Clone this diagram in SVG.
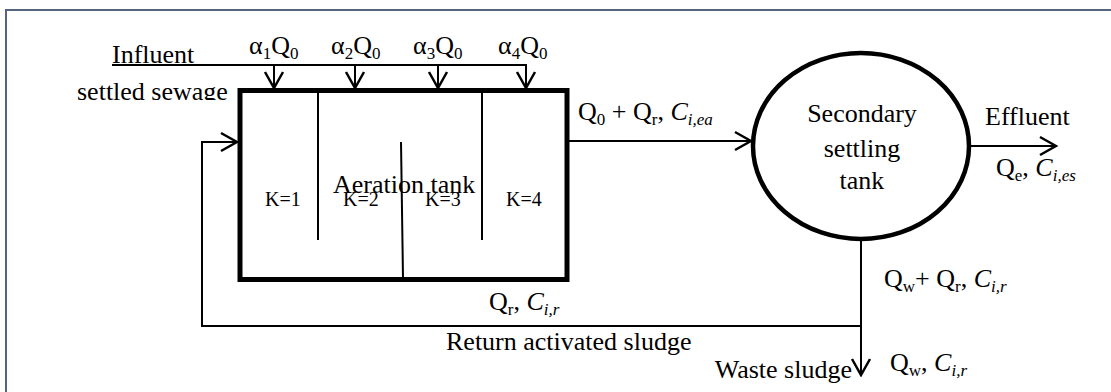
<svg xmlns="http://www.w3.org/2000/svg" width="1111" height="392" viewBox="0 0 1111 392">
<defs>
<style>
text{font-family:"Liberation Serif","Times New Roman",serif;font-size:26px;fill:#000}
.k{font-size:20px}
.sub{font-size:17px}
.it{font-style:italic}
.its{font-style:italic;font-size:17px}
.ln{fill:none;stroke:#000;stroke-width:2}
.arr{marker-end:url(#ah)}
</style>
<marker id="ah" markerUnits="userSpaceOnUse" viewBox="-18 -11 20 22" markerWidth="20" markerHeight="22" refX="0" refY="0" orient="auto">
<path d="M-16,-9 L0,0 L-16,9" fill="none" stroke="#000" stroke-width="2.5"/>
</marker>
<clipPath id="clipSew"><rect x="60" y="70" width="180" height="30"/></clipPath>
</defs>
<rect x="6" y="10" width="1120" height="400" fill="none" stroke="#56657f" stroke-width="2"/>
<g id="connectors">
<line class="ln" x1="112" y1="65" x2="527" y2="65"/>
<line class="ln arr" x1="274" y1="65" x2="274" y2="88"/>
<line class="ln arr" x1="355" y1="65" x2="355" y2="88"/>
<line class="ln arr" x1="438" y1="65" x2="438" y2="88"/>
<line class="ln arr" x1="526" y1="65" x2="526" y2="88"/>
<line class="ln arr" x1="567" y1="141" x2="751" y2="141"/>
<line class="ln arr" x1="970" y1="146" x2="1056" y2="146"/>
<line class="ln arr" x1="861" y1="239" x2="861" y2="375"/>
<polyline class="ln arr" points="861,326 202,326 202,142 237,142"/>
</g>
<g id="influent">
<text x="112" y="63">Influent</text>
<text x="249" y="54">α<tspan class="sub" dy="5">1</tspan><tspan dy="-5">Q</tspan><tspan class="sub" dy="5">0</tspan></text>
<text x="331" y="54">α<tspan class="sub" dy="5">2</tspan><tspan dy="-5">Q</tspan><tspan class="sub" dy="5">0</tspan></text>
<text x="413" y="54">α<tspan class="sub" dy="5">3</tspan><tspan dy="-5">Q</tspan><tspan class="sub" dy="5">0</tspan></text>
<text x="498" y="54">α<tspan class="sub" dy="5">4</tspan><tspan dy="-5">Q</tspan><tspan class="sub" dy="5">0</tspan></text>
<text x="77" y="100" clip-path="url(#clipSew)">settled sewage</text>
</g>
<g id="aeration-tank">
<rect x="240" y="90.5" width="327" height="189" fill="none" stroke="#000" stroke-width="5"/>
<line x1="318" y1="90" x2="318" y2="240" stroke="#000" stroke-width="2"/>
<line x1="401" y1="142" x2="403" y2="278" stroke="#000" stroke-width="2"/>
<line x1="482" y1="90" x2="482" y2="240" stroke="#000" stroke-width="2"/>
<text class="k" x="265" y="206">K=1</text>
<text class="k" x="343" y="206">K=2</text>
<text class="k" x="425" y="206">K=3</text>
<text class="k" x="506" y="206">K=4</text>
<text x="333" y="193">Aeration tank</text>
</g>
<g id="settling-tank">
<ellipse cx="861" cy="146" rx="108" ry="93" fill="none" stroke="#000" stroke-width="4.5"/>
<text x="862" y="122" text-anchor="middle">Secondary</text>
<text x="862" y="157" text-anchor="middle">settling</text>
<text x="862" y="189" text-anchor="middle">tank</text>
</g>
<g id="labels">
<text x="578" y="120">Q<tspan class="sub" dy="5">0</tspan><tspan dy="-5"> + Q</tspan><tspan class="sub" dy="5">r</tspan><tspan dy="-5">, </tspan><tspan class="it">C</tspan><tspan class="its" dy="5">i,ea</tspan></text>
<text x="985" y="125">Effluent</text>
<text x="996" y="176">Q<tspan class="sub" dy="5">e</tspan><tspan dy="-5">, </tspan><tspan class="it">C</tspan><tspan class="its" dy="5">i,es</tspan></text>
<text x="489" y="310">Q<tspan class="sub" dy="5">r</tspan><tspan dy="-5">, </tspan><tspan class="it">C</tspan><tspan class="its" dy="5">i,r</tspan></text>
<text x="884" y="287">Q<tspan class="sub" dy="5">w</tspan><tspan dy="-5">+ Q</tspan><tspan class="sub" dy="5">r</tspan><tspan dy="-5">, </tspan><tspan class="it">C</tspan><tspan class="its" dy="5">i,r</tspan></text>
<text x="446" y="350">Return activated sludge</text>
<text x="852" y="378" text-anchor="end">Waste sludge</text>
<text x="890" y="371">Q<tspan class="sub" dy="5">w</tspan><tspan dy="-5">, </tspan><tspan class="it">C</tspan><tspan class="its" dy="5">i,r</tspan></text>
</g>
</svg>
